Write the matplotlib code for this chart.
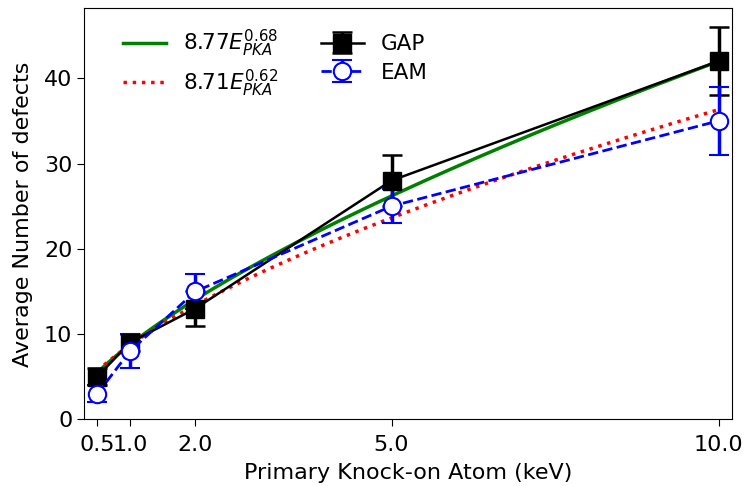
import numpy as np
import matplotlib
matplotlib.use("Agg")
import matplotlib.pyplot as plt

energy = [0.5, 1.0, 2.0, 5.0, 10.0]
tick_labels = ["0.5", "1.0", "2.0", "5.0", "10.0"]
gap_mean = [5, 9, 13, 28, 42]
gap_err = [1, 1, 2, 3, 4]
eam_mean = [3, 8, 15, 25, 35]
eam_err = [1, 2, 2, 2, 4]
fit_gap = (8.77, 0.68)
fit_eam = (8.71, 0.62)

fig, ax = plt.subplots(figsize=(7.45, 4.86), dpi=100)
xs = np.linspace(min(energy), max(energy), 200)
ax.plot(xs, fit_gap[0] * xs ** fit_gap[1], color="green", lw=2.5,
        label=r"$8.77E_{PKA}^{0.68}$")
ax.plot(xs, fit_eam[0] * xs ** fit_eam[1], color="red", lw=2.5, ls=":",
        label=r"$8.71E_{PKA}^{0.62}$")
ax.errorbar(energy, gap_mean, yerr=gap_err, color="black", marker="s", ms=13,
            lw=1.8, capsize=7, elinewidth=2.5, capthick=1.8, label="GAP")
ax.errorbar(energy, eam_mean, yerr=eam_err, color="blue", marker="o", ms=12.5,
            mfc="white", mec="blue", mew=1.5, lw=2, ls="--", capsize=7,
            elinewidth=2.5, capthick=1.8, label="EAM")

ax.set_xlim(0.3, 10.2)
ax.set_ylim(0, 48.2)
ax.set_xticks(energy)
ax.set_xticklabels(tick_labels)
ax.tick_params(labelsize=16, length=5)
ax.tick_params(axis="x", pad=6)
ax.set_xlabel("Primary Knock-on Atom (keV)", fontsize=16, labelpad=6)
ax.set_ylabel("Average Number of defects", fontsize=16, labelpad=8)
ax.legend(ncol=2, frameon=False, loc="upper left", fontsize=15.5,
          bbox_to_anchor=(0.03, 1.0), labelspacing=0.4, columnspacing=1.95)
fig.subplots_adjust(left=0.113, right=0.982, top=0.983, bottom=0.137)
fig.savefig("out.png", dpi=100)
